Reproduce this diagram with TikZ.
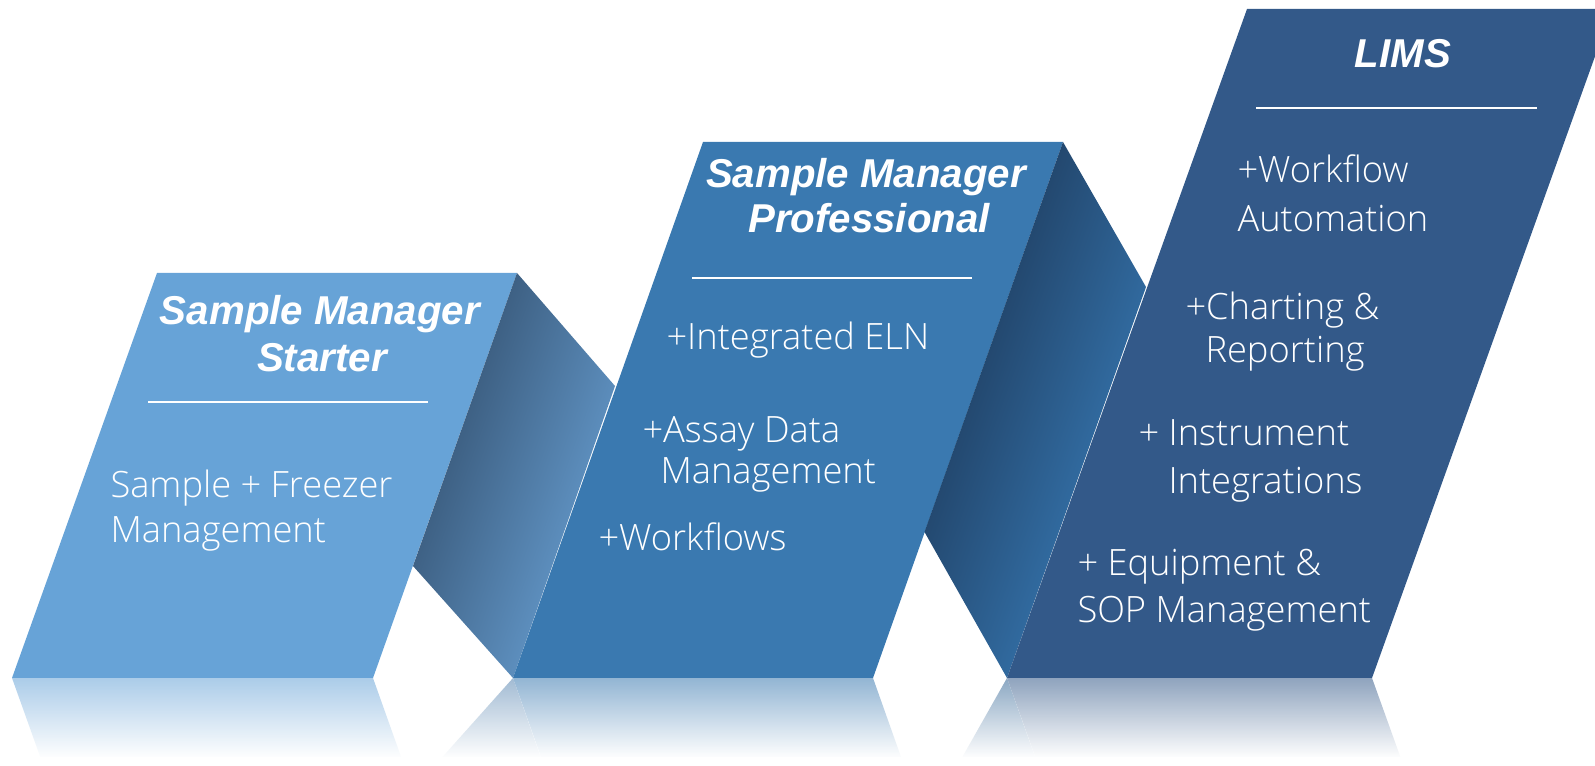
\documentclass[tikz,border=0pt]{standalone}
\usepackage{fontspec}
\setmainfont{Liberation Sans}
\newfontfamily\headfont{Liberation Sans}
\IfFontExistsTF{Open Sans Light}{\newfontfamily\itemfont{Open Sans Light}}{\newfontfamily\itemfont{Open Sans}}
\usetikzlibrary{fadings}

\definecolor{starterblue}{RGB}{103,163,215}
\definecolor{problue}{RGB}{58,121,176}
\definecolor{limsblue}{RGB}{51,89,137}
\definecolor{foldAdark}{RGB}{48,76,106}
\definecolor{foldAlight}{RGB}{106,162,214}
\definecolor{foldBdark}{RGB}{26,50,80}
\definecolor{foldBlight}{RGB}{58,128,190}

\tikzfading[name=reflectfade, top color=transparent!55, bottom color=transparent!0]

\tikzset{every picture/.style={line width=0.75pt}}
\tikzset{
  tierhead/.style={text=white, font=\headfont\bfseries\itshape\fontsize{30.2}{36}\selectfont, inner sep=0pt, anchor=base},
  tieritem/.style={text=white, font=\itemfont\fontsize{27.2}{32}\selectfont, inner sep=0pt, anchor=base west},
  tierrule/.style={draw=white, line width=1.8pt},
}

\begin{document}
\begin{tikzpicture}[x=0.75pt,y=0.75pt,yscale=-1,xscale=1]
	\useasboundingbox (0,0) rectangle (1595,766);

	%Shape: Parallelogram [starter]
	\fill[starterblue] (157,273) -- (517,273) -- (373,678) -- (12,678) -- cycle ;
	%Shape: Fold [starter to professional]
	\shade[left color=foldAdark, right color=foldAlight, shading angle=70] (517,273) -- (615,386) -- (513,678) -- (413,566) -- cycle ;
	%Shape: Parallelogram [professional]
	\fill[problue] (703,142) -- (1063,142) -- (873,678) -- (513,678) -- cycle ;
	%Shape: Fold [professional to lims]
	\shade[left color=foldBdark, right color=foldBlight, shading angle=70] (1063,142) -- (1146,287) -- (1007,678) -- (924.5,532) -- cycle ;
	%Shape: Parallelogram [lims]
	\fill[limsblue] (1247,9) -- (1612,9) -- (1372,678) -- (1007,678) -- cycle ;

	%Shape: Reflection
	\begin{scope}
	\clip (0,678) rectangle (1595,766);
	\fill[starterblue] (12,678) -- (373,678) -- (517,1083) -- (157,1083) -- cycle ;
	\fill[foldAlight!65!foldAdark] (517,1083) -- (615,970) -- (513,678) -- (413,790) -- cycle ;
	\fill[problue] (513,678) -- (873,678) -- (1063,1214) -- (703,1214) -- cycle ;
	\fill[foldBlight!60!foldBdark] (1063,1214) -- (1146,1069) -- (1007,678) -- (924.5,824) -- cycle ;
	\fill[limsblue] (1007,678) -- (1372,678) -- (1612,1347) -- (1247,1347) -- cycle ;
	\end{scope}
	\fill[white, path fading=reflectfade] (0,678) rectangle (1595,758);
	\fill[white] (0,757) rectangle (1595,766);

	%Straight Lines [rules under the titles]
	\draw[tierrule] (148,402) -- (428,402) ;
	\draw[tierrule] (692,278) -- (972,278) ;
	\draw[tierrule] (1256,108) -- (1537,108) ;

	% Text Node
	\draw (320,325) node[tierhead] (starterhead1) {Sample Manager};
	% Text Node
	\draw (322,371.7) node[tierhead] (starterhead2) {Starter};
	% Text Node
	\draw (110,497) node[tieritem] (starteritem1) {Sample + Freezer};
	% Text Node
	\draw (110,542) node[tieritem] (starteritem2) {Management};

	% Text Node
	\draw (866,188) node[tierhead] (prohead1) {Sample Manager};
	% Text Node
	\draw (869,233) node[tierhead] (prohead2) {Professional};
	% Text Node
	\draw (666,350) node[tieritem] (proitem1) {+Integrated ELN};
	% Text Node
	\draw (642,442) node[tieritem] (proitem2) {+Assay Data};
	% Text Node
	\draw (660,483) node[tieritem] (proitem3) {Management};
	% Text Node
	\draw (598,550) node[tieritem] (proitem4) {+Workflows};

	% Text Node
	\draw (1403,68) node[tierhead] (limshead) {LIMS};
	% Text Node
	\draw (1237,183) node[tieritem] (limsitem1) {+Workflow};
	% Text Node
	\draw (1237,232) node[tieritem] (limsitem2) {Automation};
	% Text Node
	\draw (1185,320) node[tieritem] (limsitem3) {+Charting \&};
	% Text Node
	\draw (1205,363) node[tieritem] (limsitem4) {Reporting};
	% Text Node
	\draw (1138,445) node[tieritem] (limsitem5) {+ Instrument};
	% Text Node
	\draw (1168,493) node[tieritem] (limsitem6) {Integrations};
	% Text Node
	\draw (1077,575) node[tieritem] (limsitem7) {+ Equipment \&};
	% Text Node
	\draw (1077,622) node[tieritem] (limsitem8) {SOP Management};

\end{tikzpicture}
\end{document}
